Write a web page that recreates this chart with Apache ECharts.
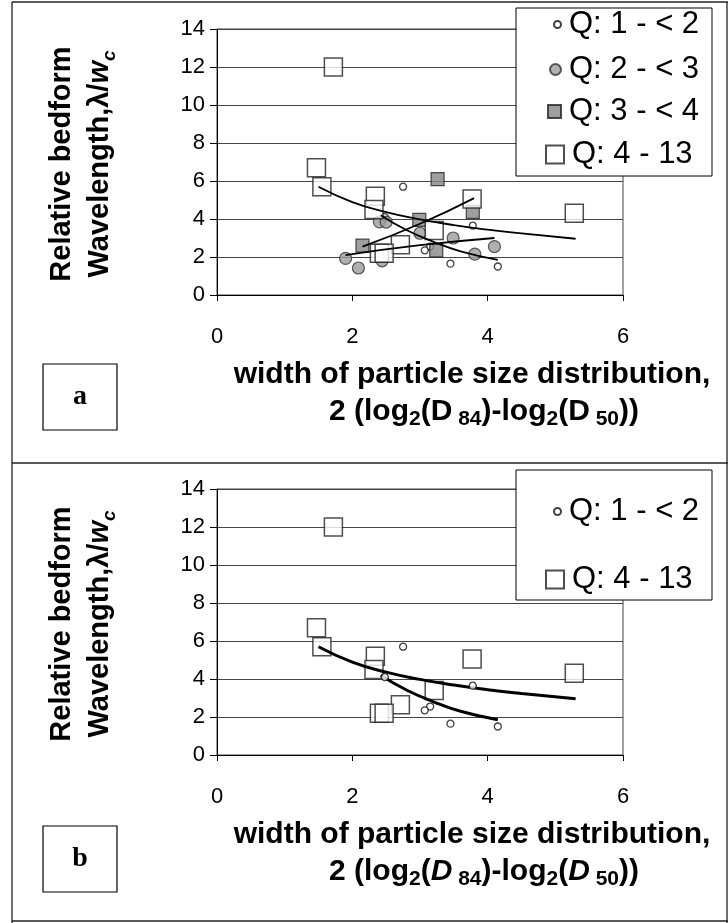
<!DOCTYPE html>
<html>
<head>
<meta charset="utf-8">
<script src="https://cdn.jsdelivr.net/npm/echarts@6/dist/echarts.min.js"></script>
<style>html,body{margin:0;padding:0;background:#fff}#c{width:728px;height:923px}</style>
</head>
<body>
<div id="c"></div>
<script>
// ---- data ----
const xTicks = [0, 2, 4, 6];
const yTicks = [0, 2, 4, 6, 8, 10, 12, 14];
const seriesNames = ['Q: 1 - < 2', 'Q: 2 - < 3', 'Q: 3 - < 4', 'Q: 4 - 13'];

const q1X = [2.75, 2.48, 3.78, 3.15, 3.07, 3.45, 4.15];
const q1Y = [5.7, 4.1, 3.65, 2.55, 2.35, 1.65, 1.5];

const q2X = [2.40, 2.50, 1.90, 2.09, 3.00, 3.49, 4.10, 3.81, 2.44];
const q2Y = [3.85, 3.84, 1.93, 1.42, 3.25, 3.00, 2.55, 2.15, 1.80];

const q3X = [3.26, 3.78, 2.99, 2.15, 3.24];
const q3Y = [6.10, 4.37, 3.95, 2.60, 2.35];

const q4X = [1.47, 1.55, 1.72, 2.34, 2.32, 3.77, 5.28, 3.21, 2.71, 2.40, 2.47];
const q4Y = [6.70, 5.70, 12.0, 5.20, 4.50, 5.05, 4.30, 3.40, 2.65, 2.20, 2.20];

// trend curves
const t1X = [2.42, 2.8, 3.2, 3.6, 4.15];
const t1Y = [4.2, 3.42, 2.8, 2.3, 1.85];
const t2X = [1.9, 3.0, 4.1];
const t2Y = [2.1, 2.62, 3.0];
const t3X = [2.15, 3.0, 3.8];
const t3Y = [2.55, 3.75, 5.1];
const t4X = [1.5, 2.0, 2.5, 3.0, 3.5, 4.0, 4.5, 5.3];
const t4Y = [5.7, 4.89, 4.36, 3.98, 3.68, 3.44, 3.24, 2.96];

const zip = (xs, ys) => xs.map((x, i) => [x, ys[i]]);

// ---- styles ----
const FONT = '"Liberation Sans", Arial, sans-serif';
const SERIF = '"Liberation Serif", "Times New Roman", serif';
const styleQ1 = {symbol: 'circle', symbolSize: 7, itemStyle: {color: '#fff', borderColor: '#111', borderWidth: 1.3}};
const styleQ2 = {symbol: 'circle', symbolSize: 12, itemStyle: {color: '#9c9c9c', borderColor: '#333', borderWidth: 1.2}};
const styleQ3 = {symbol: 'rect', symbolSize: 13, itemStyle: {color: '#878787', borderColor: '#222', borderWidth: 1.2}};
const styleQ4 = {symbol: 'rect', symbolSize: 18, itemStyle: {color: '#fff', borderColor: '#222', borderWidth: 1.5}};

const grids = [
  {left: 217, top: 29, width: 406, height: 266},
  {left: 217, top: 489, width: 406, height: 266}
];

function xAx(i) {
  return {
    type: 'value', gridIndex: i, min: 0, max: 6, interval: 2,
    axisLine: {show: true, onZero: false, lineStyle: {color: '#000', width: 1}},
    axisTick: {show: true, inside: false, length: 6, lineStyle: {color: '#000'}},
    axisLabel: {fontFamily: FONT, fontSize: 22, color: '#000', margin: 31},
    splitLine: {show: false}
  };
}
function yAx(i) {
  return {
    type: 'value', gridIndex: i, min: 0, max: 14, interval: 2,
    axisLine: {show: true, onZero: false, lineStyle: {color: '#000', width: 1}},
    axisTick: {show: true, inside: false, length: 7, lineStyle: {color: '#000'}},
    axisLabel: {fontFamily: FONT, fontSize: 22, color: '#000', margin: 12},
    splitLine: {show: true, lineStyle: {color: '#444', width: 1}}
  };
}

function scatter(name, xs, ys, st, idx) {
  return Object.assign({type: 'scatter', name: name, xAxisIndex: idx, yAxisIndex: idx,
    data: zip(xs, ys), z: 3}, JSON.parse(JSON.stringify(st)));
}
function trend(xs, ys, idx, w) {
  return {type: 'line', xAxisIndex: idx, yAxisIndex: idx, data: zip(xs, ys), smooth: true,
    showSymbol: false, silent: true, z: 4, lineStyle: {color: '#000', width: w}};
}

const series = [
  scatter(seriesNames[0], q1X, q1Y, styleQ1, 0),
  scatter(seriesNames[1], q2X, q2Y, styleQ2, 0),
  scatter(seriesNames[2], q3X, q3Y, styleQ3, 0),
  scatter(seriesNames[3], q4X, q4Y, styleQ4, 0),
  trend(t4X, t4Y, 0, 1.8), trend(t1X, t1Y, 0, 1.8), trend(t2X, t2Y, 0, 1.8), trend(t3X, t3Y, 0, 1.8),
  scatter(seriesNames[0], q1X, q1Y, styleQ1, 1),
  scatter(seriesNames[3], q4X, q4Y, styleQ4, 1),
  trend(t4X, t4Y, 1, 3), trend(t1X, t1Y, 1, 3)
];
series[8].z = 5;

function leg(name, left, top, size) {
  return {data: [name], left: left, top: top, itemWidth: size, itemHeight: size, z: 20,
    selectedMode: false, padding: 0, itemGap: 0,
    textStyle: {fontFamily: FONT, fontSize: 31, color: '#000', padding: [0, 0, 0, 3]}};
}
const legends = [
  leg(seriesNames[0], 553, 9, 7),
  leg(seriesNames[1], 549, 54, 11),
  leg(seriesNames[2], 547, 96, 13),
  leg(seriesNames[3], 545, 139, 18),
  leg(seriesNames[0], 553, 496, 7),
  leg(seriesNames[3], 545, 564, 18)
];

const titleRich = {
  t: {fontFamily: FONT, fontWeight: 'bold', fontSize: 29, color: '#000'},
  x: {fontFamily: FONT, fontWeight: 'bold', fontSize: 30, color: '#000'},
  s: {fontFamily: FONT, fontWeight: 'bold', fontSize: 21, color: '#000', verticalAlign: 'bottom', padding: [14, 0, 0, 0]},
  i: {fontFamily: FONT, fontWeight: 'bold', fontStyle: 'italic', fontSize: 29, color: '#000'},
  xi: {fontFamily: FONT, fontWeight: 'bold', fontStyle: 'italic', fontSize: 30, color: '#000'},
  si: {fontFamily: FONT, fontWeight: 'bold', fontStyle: 'italic', fontSize: 19, color: '#000', verticalAlign: 'bottom', padding: [13, 0, 0, 0]}
};

function yTitle(cx, cy) {
  return {type: 'text', x: cx, y: cy, rotation: Math.PI / 2, z: 30,
    style: {text: '{t|Relative bedform}\n{t|Wavelength,λ/}{i|w}{si|c}', rich: titleRich,
      align: 'center', verticalAlign: 'middle', lineHeight: 38}};
}
function xTitle(cy, italic) {
  const D = italic ? 'xi' : 'x';
  const l2 = '{x|2 (log}{s|2}{x|(}{' + D + '|D}{s| 84}{x|)-log}{s|2}{x|(}{' + D + '|D}{s| 50}{x|))}';
  return [
    {type: 'text', x: 472, y: cy, z: 30,
      style: {text: '{x|width of particle size distribution,}', rich: titleRich, align: 'center', verticalAlign: 'middle'}},
    {type: 'text', x: 484, y: cy + 37, z: 30,
      style: {text: l2, rich: titleRich, align: 'center', verticalAlign: 'middle'}}
  ];
}
function tagBox(x, y, letter) {
  return [
    {type: 'rect', shape: {x: x, y: y, width: 74, height: 66}, z: 30,
      style: {fill: '#fff', stroke: '#000', lineWidth: 1.2}},
    {type: 'text', x: x + 37, y: y + 33, z: 31,
      style: {text: letter, font: 'bold 28px ' + SERIF, fill: '#000', align: 'center', verticalAlign: 'middle'}}
  ];
}
function line(x1, y1, x2, y2) {
  return {type: 'line', shape: {x1: x1, y1: y1, x2: x2, y2: y2}, z: 30,
    style: {stroke: '#222', lineWidth: 1.3}};
}

const graphics = [
  line(12, 2, 728, 2), line(12, 2, 12, 923), line(727, 2, 727, 923), line(12, 921, 728, 921),
  line(12, 463, 728, 463),
  {type: 'rect', shape: {x: 516, y: 8, width: 196, height: 168}, z: 10,
    style: {fill: '#fff', stroke: '#000', lineWidth: 1}},
  {type: 'rect', shape: {x: 516, y: 470, width: 196, height: 130}, z: 10,
    style: {fill: '#fff', stroke: '#000', lineWidth: 1}},
  yTitle(81, 164), yTitle(81, 624)
].concat(xTitle(375, false), xTitle(835, true), tagBox(43, 364, 'a'), tagBox(43, 826, 'b'));

const chart = echarts.init(document.getElementById('c'), null, {renderer: 'canvas'});
chart.setOption({
  animation: false,
  backgroundColor: '#fff',
  grid: grids.map(g => Object.assign({show: true, borderColor: '#444', borderWidth: 1, backgroundColor: 'transparent'}, g)),
  xAxis: [xAx(0), xAx(1)],
  yAxis: [yAx(0), yAx(1)],
  legend: legends,
  graphic: graphics,
  series: series
});
</script>
</body>
</html>
